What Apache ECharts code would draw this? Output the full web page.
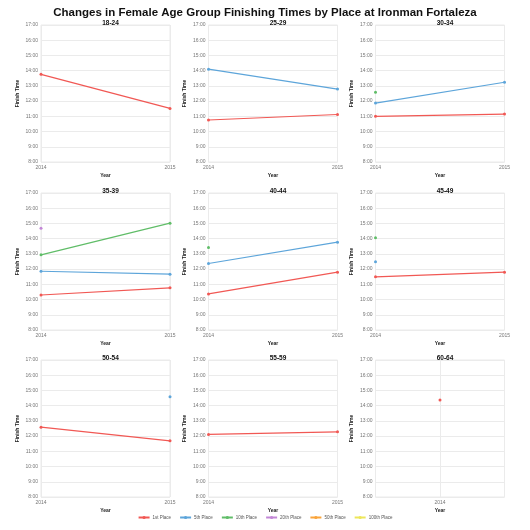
<!DOCTYPE html>
<html>
<head>
<meta charset="utf-8">
<script src="https://cdn.jsdelivr.net/npm/echarts@6/dist/echarts.min.js"></script>
<style>
html,body{margin:0;padding:0;background:#fff;}
#chart{width:530px;height:530px;}
</style>
</head>
<body>
<div id="chart"></div>
<script>
// ---- data (finish times in decimal hours) ----
const chartTitle = 'Changes in Female Age Group Finishing Times by Place at Ironman Fortaleza';
const ageGroups = ['18-24','25-29','30-34','35-39','40-44','45-49','50-54','55-59','60-64'];
const groupYears = [
  ['2014','2015'],['2014','2015'],['2014','2015'],
  ['2014','2015'],['2014','2015'],['2014','2015'],
  ['2014','2015'],['2014','2015'],['2014']
];
const places = ['1st Place','5th Place','10th Place','20th Place','50th Place','100th Place'];
const placeColors = ['#F15854','#5DA5DA','#60BD68','#C287D6','#FAA43A','#EDE65A'];
const yTicks = ['8:00','9:00','10:00','11:00','12:00','13:00','14:00','15:00','16:00','17:00'];

const place1st   = [[13.76,11.52],[10.76,11.12],[11.00,11.15],[10.30,10.77],[10.37,11.80],[11.49,11.80],[12.59,11.69],[12.11,12.28],[14.37]];
const place5th   = [[null,null],[14.10,12.79],[11.87,13.24],[11.86,11.67],[12.37,13.77],[12.48,null],[null,14.58],[null,null],[null]];
const place10th  = [[null,null],[null,null],[12.59,null],[12.94,15.02],[13.42,null],[14.06,null],[null,null],[null,null],[null]];
const place20th  = [[null,null],[null,null],[null,null],[14.68,null],[null,null],[null,null],[null,null],[null,null],[null]];
const place50th  = [[null,null],[null,null],[null,null],[null,null],[null,null],[null,null],[null,null],[null,null],[null]];
const place100th = [[null,null],[null,null],[null,null],[null,null],[null,null],[null,null],[null,null],[null,null],[null]];
const placeData = [place1st, place5th, place10th, place20th, place50th, place100th];

// ---- layout ----
const colLeft = [41, 208.5, 375.5];
const rowTop = [25, 193, 360];
const gridW = 129, gridH = 137;
const gridLineColor = '#ebebeb';

const grids = [], xAxes = [], yAxes = [], series = [];
const titles = [{
  text: chartTitle, left: 'center', top: 2,
  textStyle: {fontFamily: 'Liberation Sans', fontSize: 11.5, fontWeight: 'bold', color: '#111'}
}];

ageGroups.forEach((g, i) => {
  const c = i % 3, r = Math.floor(i / 3);
  grids.push({left: colLeft[c], top: rowTop[r], width: gridW, height: gridH,
    show: true, borderColor: gridLineColor, borderWidth: 1, containLabel: false});
  const yrs = groupYears[i];
  const single = yrs.length === 1;
  const cats = single ? ['', yrs[0], ''] : yrs;
  titles.push({
    text: g, left: colLeft[c] + gridW / 2, top: rowTop[r] - 10, textAlign: 'center',
    textStyle: {fontFamily: 'Liberation Sans', fontSize: 6.5, fontWeight: 'bold', color: '#111'}
  });
  xAxes.push({
    type: 'category', gridIndex: i, data: cats, boundaryGap: false,
    name: 'Year', nameLocation: 'middle', nameGap: 11,
    nameTextStyle: {fontFamily: 'Liberation Sans', fontSize: 5, fontWeight: 'bold', color: '#222'},
    axisLine: {show: false}, axisTick: {show: false},
    axisLabel: {fontFamily: 'Liberation Sans', fontSize: 5, color: '#777', margin: 3, interval: 0},
    splitLine: {show: true, lineStyle: {color: gridLineColor, width: 1}}
  });
  yAxes.push({
    type: 'value', gridIndex: i, min: 8, max: 17, interval: 1,
    name: 'Finish Time', nameLocation: 'middle', nameGap: 21, nameRotate: 90,
    nameTextStyle: {fontFamily: 'Liberation Sans', fontSize: 5, fontWeight: 'bold', color: '#222'},
    axisLine: {show: false}, axisTick: {show: false},
    axisLabel: {fontFamily: 'Liberation Sans', fontSize: 5, color: '#777', margin: 3,
      formatter: v => yTicks[Math.round(v - 8)]},
    splitLine: {show: true, lineStyle: {color: gridLineColor, width: 1}}
  });
  places.forEach((p, k) => {
    const vals = placeData[k][i];
    const d = single ? [null, vals[0], null] : vals;
    series.push({
      type: 'line', name: p, xAxisIndex: i, yAxisIndex: i, data: d,
      color: placeColors[k], symbol: 'circle', symbolSize: 3, showSymbol: true,
      lineStyle: {width: 1.2}, connectNulls: false, animation: false, silent: true
    });
  });
});

const chart = echarts.init(document.getElementById('chart'));
chart.setOption({
  backgroundColor: '#fff',
  animation: false,
  title: titles,
  grid: grids,
  xAxis: xAxes,
  yAxis: yAxes,
  legend: {
    data: places, bottom: 5, left: 'center', itemWidth: 11, itemHeight: 4, itemGap: 8,
    textStyle: {fontFamily: 'Liberation Sans', fontSize: 4.5, color: '#555', padding: [0, 0, 0, -2]}
  },
  series: series
});
</script>
</body>
</html>
